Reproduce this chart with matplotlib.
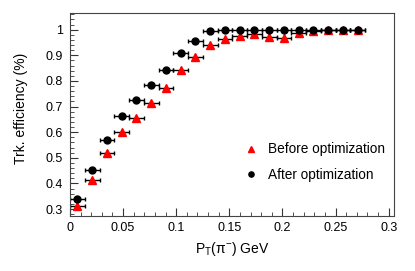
import numpy as np
import matplotlib.pyplot as plt
from matplotlib.ticker import MultipleLocator

plt.rcParams['font.family'] = ['Liberation Sans', 'DejaVu Sans']

bin_width = 0.25 / 18
pt = np.array([bin_width * (k + 0.5) for k in range(20)])

eff_before = [0.311, 0.413, 0.519, 0.600, 0.655, 0.713, 0.774, 0.842, 0.893, 0.939,
              0.962, 0.975, 0.982, 0.970, 0.968, 0.988, 0.993, 1.0, 1.0, 1.0]
eff_after = [0.339, 0.452, 0.571, 0.662, 0.724, 0.784, 0.843, 0.907, 0.957, 0.993,
             1.0, 1.0, 1.0, 1.0, 1.0, 1.0, 1.0, 1.0, 1.0, 1.0]

fig = plt.figure(figsize=(4.15, 2.71), dpi=100)
ax = fig.add_axes([70 / 415, 1 - 216 / 271, 324 / 415, 203 / 271])

ax.errorbar(pt, eff_before, xerr=bin_width / 2, fmt='none', ecolor='black',
            elinewidth=1, capsize=1.5, capthick=1)
ax.errorbar(pt, eff_after, xerr=bin_width / 2, fmt='none', ecolor='black',
            elinewidth=1, capsize=1.5, capthick=1)
ax.plot(pt, eff_before, '^', color='red', markersize=5.5, label='Before optimization', zorder=3)
ax.plot(pt, eff_after, 'o', color='black', markersize=5, label='After optimization', zorder=3)

ax.set_xlim(0, 0.305)
ax.set_ylim(0.273, 1.065)
ax.xaxis.set_minor_locator(MultipleLocator(0.01))
ax.yaxis.set_minor_locator(MultipleLocator(0.02))
ax.set_xticks([0, 0.05, 0.1, 0.15, 0.2, 0.25, 0.3])
ax.set_xticklabels(['0', '0.05', '0.1', '0.15', '0.2', '0.25', '0.3'])
ax.set_yticks([0.3, 0.4, 0.5, 0.6, 0.7, 0.8, 0.9, 1.0])
ax.set_yticklabels(['0.3', '0.4', '0.5', '0.6', '0.7', '0.8', '0.9', '1'])
ax.tick_params(which='both', direction='in', labelsize=9, color='#333333')
ax.tick_params(which='major', length=6)
ax.tick_params(which='minor', length=3)
ax.tick_params(axis='y', pad=5)
ax.tick_params(axis='x', pad=4)
for s in ax.spines.values():
    s.set_color('#444444')

ax.set_xlabel(r'P$_\mathregular{T}$($\mathregular{\pi}^{\mathregular{-}}$) GeV', fontsize=10, labelpad=5)
ax.set_ylabel('Trk. efficiency (%)', fontsize=10)
ax.yaxis.set_label_coords(-0.13, 0.53)

ax.legend(loc='center left', bbox_to_anchor=(0.499, 0.265), frameon=False, fontsize=9.8,
          handletextpad=0.75, labelspacing=0.85, handlelength=1.0, markerscale=0.75,
          borderpad=0.4)

fig.savefig('out.png', dpi=100)
